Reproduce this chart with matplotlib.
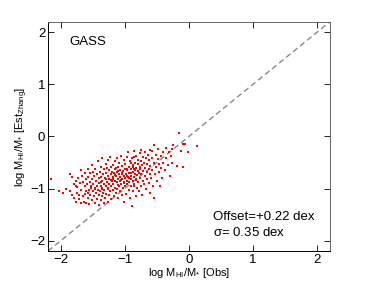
import matplotlib
matplotlib.use('Agg')
import matplotlib.pyplot as plt
import numpy as np

plt.rcParams['font.family'] = ['Liberation Sans', 'DejaVu Sans']
plt.rcParams['mathtext.default'] = 'regular'

pts = [
    (-2.15, -0.82), (-2.03, -1.04), (-1.97, -1.08), (-1.92, -1.00), (-1.86, -0.72), (-1.85, -1.04),
    (-1.82, -0.78), (-1.82, -1.12), (-1.80, -0.92), (-1.79, -1.18), (-1.77, -0.85), (-1.76, -1.25),
    (-1.75, -0.97), (-1.74, -1.08), (-1.73, -0.80), (-1.72, -1.20), (-1.70, -0.90), (-1.69, -1.28),
    (-1.68, -1.02), (-1.67, -0.75), (-1.66, -1.15), (-1.65, -0.88), (-1.64, -1.25), (-1.63, -0.95),
    (-1.62, -0.70), (-1.62, -1.10), (-1.61, -0.82), (-1.60, -1.05), (-1.60, -1.28), (-1.68, -0.65),
    (-1.71, -1.12), (-1.76, -0.95),
    (-1.59, -0.92), (-1.58, -1.18), (-1.58, -0.62), (-1.57, -0.78), (-1.56, -1.02), (-1.56, -1.30),
    (-1.55, -0.88), (-1.54, -0.70), (-1.54, -1.12), (-1.53, -0.95), (-1.52, -0.55), (-1.52, -1.22),
    (-1.51, -0.82), (-1.50, -1.05), (-1.50, -0.68), (-1.49, -0.92), (-1.48, -1.15), (-1.48, -0.76),
    (-1.47, -1.28), (-1.46, -0.98), (-1.46, -0.62), (-1.45, -0.85), (-1.45, -1.08), (-1.44, -0.72),
    (-1.43, -1.20), (-1.43, -0.95), (-1.42, -0.48), (-1.42, -1.02), (-1.41, -0.80), (-1.41, -1.32),
    (-1.40, -0.90), (-1.40, -1.12), (-1.57, -1.08), (-1.53, -0.98), (-1.47, -1.00),
    (-1.39, -0.68), (-1.39, -1.05), (-1.38, -0.95), (-1.38, -1.22), (-1.37, -0.78), (-1.37, -0.58),
    (-1.36, -1.00), (-1.36, -1.15), (-1.35, -0.85), (-1.35, -0.42), (-1.34, -1.08), (-1.34, -0.72),
    (-1.33, -0.92), (-1.33, -1.28), (-1.32, -0.62), (-1.32, -1.02), (-1.31, -0.80), (-1.31, -1.18),
    (-1.30, -0.95), (-1.30, -0.52), (-1.29, -0.70), (-1.29, -1.10), (-1.28, -0.88), (-1.28, -0.60),
    (-1.27, -1.00), (-1.27, -1.25), (-1.26, -0.76), (-1.26, -0.45), (-1.25, -0.92), (-1.25, -1.12),
    (-1.24, -0.65), (-1.24, -0.82), (-1.23, -0.39), (-1.23, -1.05), (-1.22, -0.72), (-1.22, -0.96),
    (-1.21, -0.58), (-1.21, -1.20), (-1.20, -0.86), (-1.20, -0.68), (-1.38, -0.88), (-1.35, -0.98),
    (-1.30, -0.82), (-1.26, -0.98), (-1.22, -0.84),
    (-1.19, -0.78), (-1.19, -1.02), (-1.18, -0.55), (-1.18, -0.92), (-1.17, -0.70), (-1.17, -1.15),
    (-1.16, -0.85), (-1.16, -0.48), (-1.15, -0.98), (-1.15, -0.62), (-1.14, -0.76), (-1.14, -1.08),
    (-1.13, -0.88), (-1.13, -0.42), (-1.12, -0.68), (-1.12, -1.00), (-1.11, -0.58), (-1.11, -0.82),
    (-1.10, -0.94), (-1.10, -1.18), (-1.09, -0.72), (-1.09, -0.50), (-1.08, -0.85), (-1.08, -1.05),
    (-1.07, -0.64), (-1.07, -0.78), (-1.06, -0.92), (-1.06, -0.38), (-1.05, -0.70), (-1.05, -1.12),
    (-1.04, -0.82), (-1.04, -0.56), (-1.03, -0.98), (-1.03, -0.66), (-1.02, -0.75), (-1.02, -1.25),
    (-1.01, -0.88), (-1.01, -0.46), (-1.00, -0.62), (-1.00, -0.80), (-1.18, -0.82), (-1.15, -0.74),
    (-1.12, -0.88), (-1.10, -0.66), (-1.08, -0.78), (-1.06, -0.84), (-1.04, -0.72), (-1.02, -0.90),
    (-1.14, -0.60), (-1.09, -0.96),
    (-0.99, -0.95), (-0.99, -0.52), (-0.98, -0.72), (-0.98, -1.10), (-0.97, -0.85), (-0.97, -0.40),
    (-0.96, -0.65), (-0.96, -0.92), (-0.95, -0.78), (-0.95, -0.30), (-0.94, -0.58), (-0.94, -1.02),
    (-0.93, -0.70), (-0.93, -0.88), (-0.92, -0.48), (-0.92, -1.18), (-0.91, -0.82), (-0.91, -0.62),
    (-0.90, -0.75), (-0.90, -0.95), (-0.89, -1.33), (-0.89, -0.42), (-0.88, -0.68), (-0.88, -0.86),
    (-0.87, -0.55), (-0.87, -1.05), (-0.86, -0.78), (-0.86, -0.28), (-0.85, -0.62), (-0.85, -0.92),
    (-0.84, -0.50), (-0.84, -0.72), (-0.83, -1.15), (-0.83, -0.84), (-0.82, -0.60), (-0.82, -0.38),
    (-0.81, -0.74), (-0.81, -0.98), (-0.80, -0.52), (-0.80, -0.66), (-0.97, -0.62), (-0.94, -0.80),
    (-0.91, -0.70), (-0.88, -0.58), (-0.86, -0.95), (-0.84, -0.64), (-0.82, -0.82), (-0.96, -0.76),
    (-0.90, -0.50), (-0.85, -0.40),
    (-0.79, -0.88), (-0.79, -0.45), (-0.78, -0.70), (-0.78, -1.05), (-0.77, -0.58), (-0.77, -0.32),
    (-0.76, -0.80), (-0.76, -0.62), (-0.75, -0.95), (-0.75, -0.48), (-0.74, -0.72), (-0.74, -0.26),
    (-0.73, -0.55), (-0.73, -1.12), (-0.72, -0.85), (-0.72, -0.40), (-0.71, -0.66), (-0.70, -0.50),
    (-0.70, -0.92), (-0.69, -0.30), (-0.69, -0.75), (-0.68, -0.60), (-0.67, -1.00), (-0.67, -0.42),
    (-0.66, -0.68), (-0.65, -0.82), (-0.65, -0.52), (-0.64, -0.35), (-0.63, -0.62), (-0.63, -0.90),
    (-0.62, -0.46), (-0.61, -0.72), (-0.61, -1.08), (-0.60, -0.56), (-0.60, -0.26),
    (-0.59, -0.80), (-0.58, -0.42), (-0.57, -0.65), (-0.56, -0.95), (-0.55, -1.19), (-0.55, -0.50),
    (-0.54, -0.16), (-0.53, -0.72), (-0.52, -0.35), (-0.51, -0.58), (-0.50, -0.86), (-0.49, -0.44),
    (-0.48, -0.25), (-0.47, -0.68), (-0.46, -0.52), (-0.45, -0.95), (-0.44, -0.38), (-0.43, -0.60),
    (-0.42, -0.80), (-0.41, -0.30), (-0.40, -0.50), (-0.57, -0.28),
    (-0.38, -0.65), (-0.36, -0.42), (-0.35, -0.22), (-0.33, -0.55), (-0.31, -0.30), (-0.30, -0.75),
    (-0.28, -0.38), (-0.27, -0.25), (-0.26, -0.50), (-0.19, -0.57), (-0.15, 0.06), (-0.12, -0.28),
    (-0.09, -0.15), (-0.06, -0.15), (-0.09, -0.58), (-0.02, -0.29), (0.13, -0.18), (-0.25, -0.16),
]
obs = np.array([p[0] for p in pts])
est = np.array([p[1] for p in pts])

lim = [-2.2, 2.2]
ticks = [-2, -1, 0, 1, 2]

fig = plt.figure(figsize=(3.65, 2.84), dpi=100)
ax = fig.add_axes([0.1315, 0.116, 0.772, 0.807])

# one-to-one line
ax.plot(lim, lim, color='#888888', lw=1.0, ls=(0, (4, 2.5)), zorder=1)
ax.scatter(obs, est, s=4.5, marker='s', color='red', linewidths=0, zorder=2)

ax.set_xlim(lim)
ax.set_ylim(lim)
ax.set_xticks(ticks)
ax.set_yticks(ticks)
ax.tick_params(direction='in', length=4, width=0.6, labelsize=9.5,
               top=True, right=True, pad=2)
for s in ax.spines.values():
    s.set_linewidth(0.7)
ax.spines['top'].set_color('#666666')
ax.spines['right'].set_color('#666666')

ax.set_xlabel(r'log M$_{HI}$/M$_{*}$ [Obs]', fontsize=8, labelpad=0)
ax.set_ylabel(r'log M$_{HI}$/M$_{*}$ [Est$_{Zhang}$]', fontsize=8, labelpad=0)

ax.text(-1.87, 1.82, 'GASS', fontsize=9.5, va='center')
ax.text(0.38, -1.54, 'Offset=+0.22 dex', fontsize=9.5, va='center')
ax.text(0.38, -1.84, r'$\sigma$= 0.35 dex', fontsize=9.5, va='center')

fig.savefig('out.png', dpi=100)
